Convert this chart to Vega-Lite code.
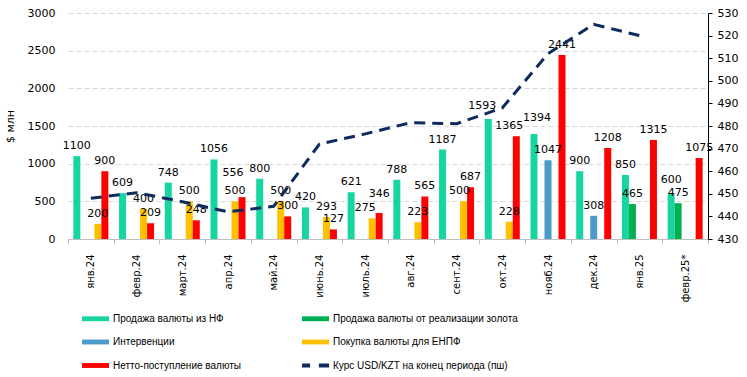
{
  "$schema": "https://vega.github.io/schema/vega-lite/v6.json",
  "width": 640,
  "height": 226,
  "autosize": {"type": "none"},
  "padding": {"left": 68, "top": 13, "right": 39, "bottom": 138},
  "background": "white",
  "config": {"view": {"stroke": null}, "font": "DejaVu Sans"},
  "datasets": {
    "bars": [
      {"month": "янв.24", "series": "Продажа валюты из НФ", "value": 1100},
      {"month": "янв.24", "series": "Покупка валюты для ЕНПФ", "value": 200},
      {"month": "янв.24", "series": "Нетто-поступление валюты", "value": 900},
      {"month": "февр.24", "series": "Продажа валюты из НФ", "value": 609},
      {"month": "февр.24", "series": "Покупка валюты для ЕНПФ", "value": 400},
      {"month": "февр.24", "series": "Нетто-поступление валюты", "value": 209},
      {"month": "март.24", "series": "Продажа валюты из НФ", "value": 748},
      {"month": "март.24", "series": "Покупка валюты для ЕНПФ", "value": 500},
      {"month": "март.24", "series": "Нетто-поступление валюты", "value": 248},
      {"month": "апр.24", "series": "Продажа валюты из НФ", "value": 1056},
      {"month": "апр.24", "series": "Покупка валюты для ЕНПФ", "value": 500},
      {"month": "апр.24", "series": "Нетто-поступление валюты", "value": 556},
      {"month": "май.24", "series": "Продажа валюты из НФ", "value": 800},
      {"month": "май.24", "series": "Покупка валюты для ЕНПФ", "value": 500},
      {"month": "май.24", "series": "Нетто-поступление валюты", "value": 300},
      {"month": "июнь.24", "series": "Продажа валюты из НФ", "value": 420},
      {"month": "июнь.24", "series": "Покупка валюты для ЕНПФ", "value": 293},
      {"month": "июнь.24", "series": "Нетто-поступление валюты", "value": 127},
      {"month": "июль.24", "series": "Продажа валюты из НФ", "value": 621},
      {"month": "июль.24", "series": "Покупка валюты для ЕНПФ", "value": 275},
      {"month": "июль.24", "series": "Нетто-поступление валюты", "value": 346},
      {"month": "авг.24", "series": "Продажа валюты из НФ", "value": 788},
      {"month": "авг.24", "series": "Покупка валюты для ЕНПФ", "value": 223},
      {"month": "авг.24", "series": "Нетто-поступление валюты", "value": 565},
      {"month": "сент.24", "series": "Продажа валюты из НФ", "value": 1187},
      {"month": "сент.24", "series": "Покупка валюты для ЕНПФ", "value": 500},
      {"month": "сент.24", "series": "Нетто-поступление валюты", "value": 687},
      {"month": "окт.24", "series": "Продажа валюты из НФ", "value": 1593},
      {"month": "окт.24", "series": "Покупка валюты для ЕНПФ", "value": 228},
      {"month": "окт.24", "series": "Нетто-поступление валюты", "value": 1365},
      {"month": "нояб.24", "series": "Продажа валюты из НФ", "value": 1394},
      {"month": "нояб.24", "series": "Интервенции", "value": 1047},
      {"month": "нояб.24", "series": "Нетто-поступление валюты", "value": 2441},
      {"month": "дек.24", "series": "Продажа валюты из НФ", "value": 900},
      {"month": "дек.24", "series": "Интервенции", "value": 308},
      {"month": "дек.24", "series": "Нетто-поступление валюты", "value": 1208},
      {"month": "янв.25", "series": "Продажа валюты из НФ", "value": 850},
      {"month": "янв.25", "series": "Продажа валюты от реализации золота", "value": 465},
      {"month": "янв.25", "series": "Нетто-поступление валюты", "value": 1315},
      {"month": "февр.25*", "series": "Продажа валюты из НФ", "value": 600},
      {"month": "февр.25*", "series": "Продажа валюты от реализации золота", "value": 475},
      {"month": "февр.25*", "series": "Нетто-поступление валюты", "value": 1075}
    ],
    "rate": [
      {"month": "янв.24", "rate": 448},
      {"month": "февр.24", "rate": 450.5},
      {"month": "март.24", "rate": 446.5},
      {"month": "апр.24", "rate": 442},
      {"month": "май.24", "rate": 444.5},
      {"month": "июнь.24", "rate": 472},
      {"month": "июль.24", "rate": 476.5},
      {"month": "авг.24", "rate": 481.5},
      {"month": "сент.24", "rate": 481},
      {"month": "окт.24", "rate": 488},
      {"month": "нояб.24", "rate": 512},
      {"month": "дек.24", "rate": 525},
      {"month": "янв.25", "rate": 520}
    ]
  },
  "layer": [
    {
      "data": {"name": "bars"},
      "encoding": {
        "x": {
          "field": "month", "type": "nominal",
          "sort": ["янв.24","февр.24","март.24","апр.24","май.24","июнь.24","июль.24","авг.24","сент.24","окт.24","нояб.24","дек.24","янв.25","февр.25*"],
          "scale": {"paddingInner": 0, "paddingOuter": 0},
          "axis": {"title": null, "labelAngle": -90, "labelFontSize": 10, "labelColor": "#000", "tickBand": "extent", "tickColor": "#bfbfbf", "tickSize": 5, "domainColor": "#bfbfbf", "labelPadding": 10, "grid": false}
        },
        "xOffset": {
          "field": "series", "type": "nominal",
          "sort": ["Продажа валюты из НФ","Продажа валюты от реализации золота","Интервенции","Покупка валюты для ЕНПФ","Нетто-поступление валюты"],
          "scale": {"domain": ["Продажа валюты из НФ","Продажа валюты от реализации золота","Интервенции","Покупка валюты для ЕНПФ","Нетто-поступление валюты"], "paddingInner": 0, "paddingOuter": 0.765}
        },
        "y": {
          "field": "value", "type": "quantitative",
          "scale": {"domain": [0, 3000], "nice": false},
          "axis": {"title": "$ млн", "values": [0,500,1000,1500,2000,2500,3000], "format": "d", "grid": true, "gridColor": "#d9d9d9", "gridDash": [5,3], "domain": false, "ticks": false, "labelPadding": 13, "labelFontSize": 11, "labelColor": "#000", "titleFontSize": 11, "titleFontWeight": "normal", "titleColor": "#000", "titlePadding": 12}
        }
      },
      "layer": [
        {
          "mark": {"type": "bar"},
          "encoding": {
            "color": {
              "field": "series", "type": "nominal",
              "scale": {
                "domain": ["Продажа валюты из НФ","Интервенции","Нетто-поступление валюты","Продажа валюты от реализации золота","Покупка валюты для ЕНПФ","Курс USD/KZT на конец периода (пш)"],
                "range": ["#17D5A0","#4A9BCC","#FF0000","#00B050","#FFC000","#0E2A5E"]
              },
              "legend": {
                "title": null, "orient": "none", "legendX": 14, "legendY": 292,
                "columns": 2, "columnPadding": 61, "rowPadding": 4.5,
                "symbolType": "M-1,-0.18H1V0.18H-1Z", "symbolSize": 729,
                "symbolStrokeWidth": 0,
                "labelFont": "Liberation Sans", "labelFontSize": 10, "labelColor": "#000", "labelOffset": 4, "labelLimit": 400,
                "padding": 0,
                "encode": {
                  "symbols": {
                    "update": {
                      "shape": {"signal": "datum.value === 'Курс USD/KZT на конец периода (пш)' ? 'M-1,-0.15H-0.4V0.15H-1Z M0.25,-0.15H1V0.15H0.25Z' : 'M-1,-0.18H1V0.18H-1Z'"},
                      "fill": {"signal": "scale('color', datum.value)"},
                      "opacity": {"value": 1},
                      "fillOpacity": {"value": 1}
                    }
                  }
                }
              }
            }
          }
        },
        {
          "transform": [{"filter": "!((datum.month === 'апр.24' && datum.series === 'Нетто-поступление валюты') || (datum.month === 'июль.24' && datum.series !== 'Продажа валюты из НФ') || (datum.month === 'окт.24' && datum.series !== 'Покупка валюты для ЕНПФ') || (datum.month === 'нояб.24' && datum.series === 'Продажа валюты из НФ') || (datum.month === 'сент.24' && datum.series === 'Покупка валюты для ЕНПФ') || (datum.month === 'февр.25*' && datum.series === 'Продажа валюты из НФ'))"}],
          "mark": {"type": "text", "baseline": "bottom", "dy": -5, "fontSize": 11, "color": "#000"},
          "encoding": {"text": {"field": "value", "type": "quantitative"}}
        },
        {
          "transform": [{"filter": "datum.month === 'апр.24' && datum.series === 'Нетто-поступление валюты'"}],
          "mark": {"type": "text", "baseline": "bottom", "dx": -9, "dy": -19, "fontSize": 11, "color": "#000"},
          "encoding": {"text": {"field": "value", "type": "quantitative"}}
        },
        {
          "transform": [{"filter": "datum.month === 'июль.24' && datum.series === 'Нетто-поступление валюты'"}],
          "mark": {"type": "text", "baseline": "bottom", "dy": -14, "fontSize": 11, "color": "#000"},
          "encoding": {"text": {"field": "value", "type": "quantitative"}}
        },
        {
          "transform": [{"filter": "(datum.month === 'июль.24' && datum.series === 'Покупка валюты для ЕНПФ') || (datum.month === 'окт.24' && datum.series === 'Нетто-поступление валюты')"}],
          "mark": {"type": "text", "baseline": "bottom", "dx": -7, "dy": -5, "fontSize": 11, "color": "#000"},
          "encoding": {"text": {"field": "value", "type": "quantitative"}}
        },
        {
          "transform": [{"filter": "datum.month === 'сент.24' && datum.series === 'Покупка валюты для ЕНПФ'"}],
          "mark": {"type": "text", "baseline": "bottom", "dx": -4, "dy": -5, "fontSize": 11, "color": "#000"},
          "encoding": {"text": {"field": "value", "type": "quantitative"}}
        },
        {
          "transform": [{"filter": "datum.month === 'окт.24' && datum.series === 'Продажа валюты из НФ'"}],
          "mark": {"type": "text", "baseline": "bottom", "dx": -6, "dy": -8, "fontSize": 11, "color": "#000"},
          "encoding": {"text": {"field": "value", "type": "quantitative"}}
        },
        {
          "transform": [{"filter": "datum.month === 'нояб.24' && datum.series === 'Продажа валюты из НФ'"}],
          "mark": {"type": "text", "baseline": "bottom", "dx": 3, "dy": -11, "fontSize": 11, "color": "#000"},
          "encoding": {"text": {"field": "value", "type": "quantitative"}}
        },
        {
          "transform": [{"filter": "datum.month === 'февр.25*' && datum.series === 'Продажа валюты из НФ'"}],
          "mark": {"type": "text", "baseline": "bottom", "dy": -9, "fontSize": 11, "color": "#000"},
          "encoding": {"text": {"field": "value", "type": "quantitative"}}
        }
      ]
    },
    {
      "data": {"name": "rate"},
      "mark": {"type": "line", "strokeWidth": 3, "strokeDash": [11, 7]},
      "encoding": {
        "x": {
          "field": "month", "type": "nominal",
          "sort": ["янв.24","февр.24","март.24","апр.24","май.24","июнь.24","июль.24","авг.24","сент.24","окт.24","нояб.24","дек.24","янв.25","февр.25*"]
        },
        "y": {
          "field": "rate", "type": "quantitative",
          "scale": {"domain": [430, 530], "nice": false, "zero": false},
          "axis": {"orient": "right", "title": null, "values": [430,440,450,460,470,480,490,500,510,520,530], "grid": false, "domainColor": "#000", "tickColor": "#000", "tickSize": 4, "labelPadding": 5, "labelFontSize": 11, "labelColor": "#000"}
        },
        "color": {"datum": "Курс USD/KZT на конец периода (пш)", "type": "nominal"}
      }
    }
  ],
  "resolve": {"scale": {"y": "independent"}}
}
